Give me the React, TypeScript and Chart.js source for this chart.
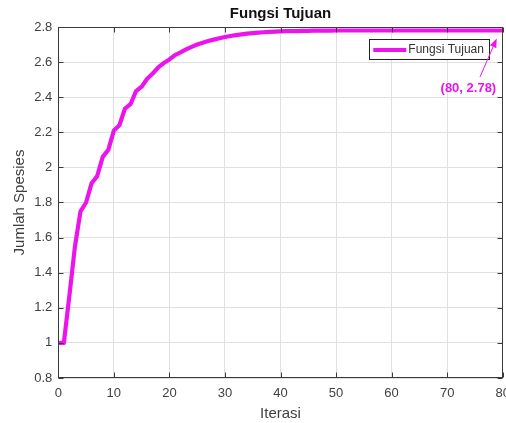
import React, { useEffect, useRef } from 'react';
import { Chart, registerables } from 'chart.js';

Chart.register(...registerables);

// ---- data ----
const chartTitle = 'Fungsi Tujuan';
const xTitle = 'Iterasi';
const yTitle = 'Jumlah Spesies';
const seriesLabel = 'Fungsi Tujuan';
// objective value per iteration, iteration 0 .. 80
const fitnessValues = [
  1.0, 1.0, 1.27, 1.55, 1.75, 1.8, 1.91, 1.95, 2.06, 2.1,
  2.21, 2.24, 2.335, 2.36, 2.435, 2.46, 2.505, 2.535, 2.57, 2.595,
  2.615, 2.64, 2.655, 2.672, 2.687, 2.7, 2.71, 2.72, 2.728, 2.736,
  2.743, 2.749, 2.754, 2.758, 2.762, 2.765, 2.768, 2.77, 2.772, 2.774,
  2.775, 2.776, 2.777, 2.777, 2.778, 2.778, 2.779, 2.779, 2.779, 2.779,
  2.78, 2.78, 2.78, 2.78, 2.78, 2.78, 2.78, 2.78, 2.78, 2.78,
  2.78, 2.78, 2.78, 2.78, 2.78, 2.78, 2.78, 2.78, 2.78, 2.78,
  2.78, 2.78, 2.78, 2.78, 2.78, 2.78, 2.78, 2.78, 2.78, 2.78,
  2.78,
];
const xTickValues = [0, 10, 20, 30, 40, 50, 60, 70, 80];
const yTickValues = [0.8, 1.0, 1.2, 1.4, 1.6, 1.8, 2.0, 2.2, 2.4, 2.6, 2.8];
const annotationPoint = { x: 80, y: 2.78 };
const annotationText = '(80, 2.78)';

// ---- styles ----
const FONT = "'Liberation Sans', Arial, Helvetica, sans-serif";
const LINE_COLOR = 'rgb(236, 20, 236)';
const AXIS_COLOR = '#3a3a3a';
const TICK_TEXT = '#404040';
const GRID_COLOR = '#e0e0e0';

const decorPlugin = {
  id: 'decor',
  afterDatasetsDraw(chart: any) {
    const { ctx, chartArea: a, scales } = chart;
    const xs = scales.x;
    const ys = scales.y;
    ctx.save();

    // box
    ctx.strokeStyle = AXIS_COLOR;
    ctx.lineWidth = 1;
    const L = Math.round(a.left) + 0.5;
    const R = Math.round(a.right) - 0.5;
    const T = Math.round(a.top) + 0.5;
    const B = Math.round(a.bottom) - 0.5;
    ctx.strokeRect(L, T, R - L, B - T);

    // inward ticks
    const tl = 5;
    ctx.beginPath();
    xTickValues.forEach((v) => {
      const px = Math.round(xs.getPixelForValue(v)) + 0.5;
      ctx.moveTo(px, B); ctx.lineTo(px, B - tl);
      ctx.moveTo(px, T); ctx.lineTo(px, T + tl);
    });
    yTickValues.forEach((v) => {
      const py = Math.round(ys.getPixelForValue(v)) + 0.5;
      ctx.moveTo(L, py); ctx.lineTo(L + tl, py);
      ctx.moveTo(R, py); ctx.lineTo(R - tl, py);
    });
    ctx.stroke();

    // title
    ctx.fillStyle = '#111';
    ctx.font = `bold 15px ${FONT}`;
    ctx.textAlign = 'center';
    ctx.textBaseline = 'middle';
    ctx.fillText(chartTitle, (a.left + a.right) / 2, a.top - 13.5);

    // legend
    const lw = 120, lh = 20;
    const lx = a.right - 13.4 - lw;
    const ly = a.top + 12;
    ctx.fillStyle = '#fff';
    ctx.fillRect(lx, ly, lw, lh);
    ctx.strokeStyle = '#222';
    ctx.lineWidth = 1;
    ctx.strokeRect(Math.round(lx) + 0.5, Math.round(ly) + 0.5, lw, lh);
    ctx.strokeStyle = LINE_COLOR;
    ctx.lineWidth = 4;
    ctx.beginPath();
    ctx.moveTo(lx + 4, ly + lh / 2 + 1);
    ctx.lineTo(lx + 37, ly + lh / 2 + 1);
    ctx.stroke();
    ctx.fillStyle = '#333';
    ctx.font = `12px ${FONT}`;
    ctx.textAlign = 'left';
    ctx.fillText(seriesLabel, lx + 39, ly + lh / 2 + 1);

    // annotation
    const px = xs.getPixelForValue(annotationPoint.x);
    const py = ys.getPixelForValue(annotationPoint.y);
    const tip = { x: px - 6, y: py + 8 };
    const tail = { x: px - 22.7, y: py + 46.5 };
    ctx.strokeStyle = LINE_COLOR;
    ctx.fillStyle = LINE_COLOR;
    ctx.lineWidth = 1;
    const ang = Math.atan2(tip.y - tail.y, tip.x - tail.x);
    const hl = 9, hw = 3.5;
    const bx = tip.x - hl * Math.cos(ang);
    const by = tip.y - hl * Math.sin(ang);
    ctx.beginPath();
    ctx.moveTo(tail.x, tail.y);
    ctx.lineTo(bx, by);
    ctx.stroke();
    ctx.beginPath();
    ctx.moveTo(tip.x, tip.y);
    ctx.lineTo(bx + hw * Math.sin(ang), by - hw * Math.cos(ang));
    ctx.lineTo(bx - hw * Math.sin(ang), by + hw * Math.cos(ang));
    ctx.closePath();
    ctx.fill();
    ctx.font = `bold 13px ${FONT}`;
    ctx.textAlign = 'right';
    ctx.textBaseline = 'middle';
    ctx.fillText(annotationText, px - 6.5, py + 58);

    ctx.restore();
  },
};

export default function App() {
  const canvasRef = useRef<HTMLCanvasElement | null>(null);

  useEffect(() => {
    if (!canvasRef.current) return;
    Chart.defaults.font.family = FONT;
    const points = fitnessValues.map((v, i) => ({ x: i, y: v }));
    const chart = new Chart(canvasRef.current, {
      type: 'line',
      data: {
        datasets: [
          {
            label: seriesLabel,
            data: points,
            borderColor: LINE_COLOR,
            backgroundColor: LINE_COLOR,
            borderWidth: 4.2,
            pointRadius: 0,
            tension: 0,
            borderJoinStyle: 'round',
            borderCapStyle: 'round',
          },
        ],
      },
      options: {
        responsive: false,
        animation: false,
        layout: { padding: { top: 27, right: 3.3, left: 0, bottom: 0 } },
        plugins: {
          legend: { display: false },
          title: { display: false },
          tooltip: { enabled: false },
        },
        scales: {
          x: {
            type: 'linear',
            min: 0,
            max: 80,
            afterBuildTicks: (s: any) => {
              s.ticks = xTickValues.map((v) => ({ value: v }));
            },
            afterFit: (s: any) => {
              s.height = 45;
              s.paddingLeft = 0;
              s.paddingRight = 0;
            },
            grid: { color: GRID_COLOR, drawTicks: false },
            border: { display: false },
            ticks: {
              padding: 8,
              color: TICK_TEXT,
              font: { size: 13 },
              maxRotation: 0,
              autoSkip: false,
              callback: (v: any) => String(v),
            },
            title: {
              display: true,
              text: xTitle,
              color: TICK_TEXT,
              font: { size: 15 },
              padding: { top: 0, bottom: 0 },
            },
          },
          y: {
            type: 'linear',
            min: 0.8,
            max: 2.8,
            afterBuildTicks: (s: any) => {
              s.ticks = yTickValues.map((v) => ({ value: v }));
            },
            afterFit: (s: any) => {
              s.width = 58.3;
              s.paddingTop = 0;
              s.paddingBottom = 0;
            },
            grid: { color: GRID_COLOR, drawTicks: false },
            border: { display: false },
            ticks: {
              padding: 6,
              color: TICK_TEXT,
              font: { size: 13 },
              autoSkip: false,
              callback: (v: any) => String(Number(Number(v).toFixed(1))),
            },
            title: {
              display: true,
              text: yTitle,
              color: TICK_TEXT,
              font: { size: 15 },
              padding: { top: 11, bottom: 0 },
            },
          },
        },
      },
      plugins: [decorPlugin],
    });
    return () => chart.destroy();
  }, []);

  return (
    <div style={{ position: 'fixed', left: 0, top: 0, width: 506, height: 423, background: '#fff' }}>
      <canvas ref={canvasRef} width={506} height={423} style={{ display: 'block' }} />
    </div>
  );
}
